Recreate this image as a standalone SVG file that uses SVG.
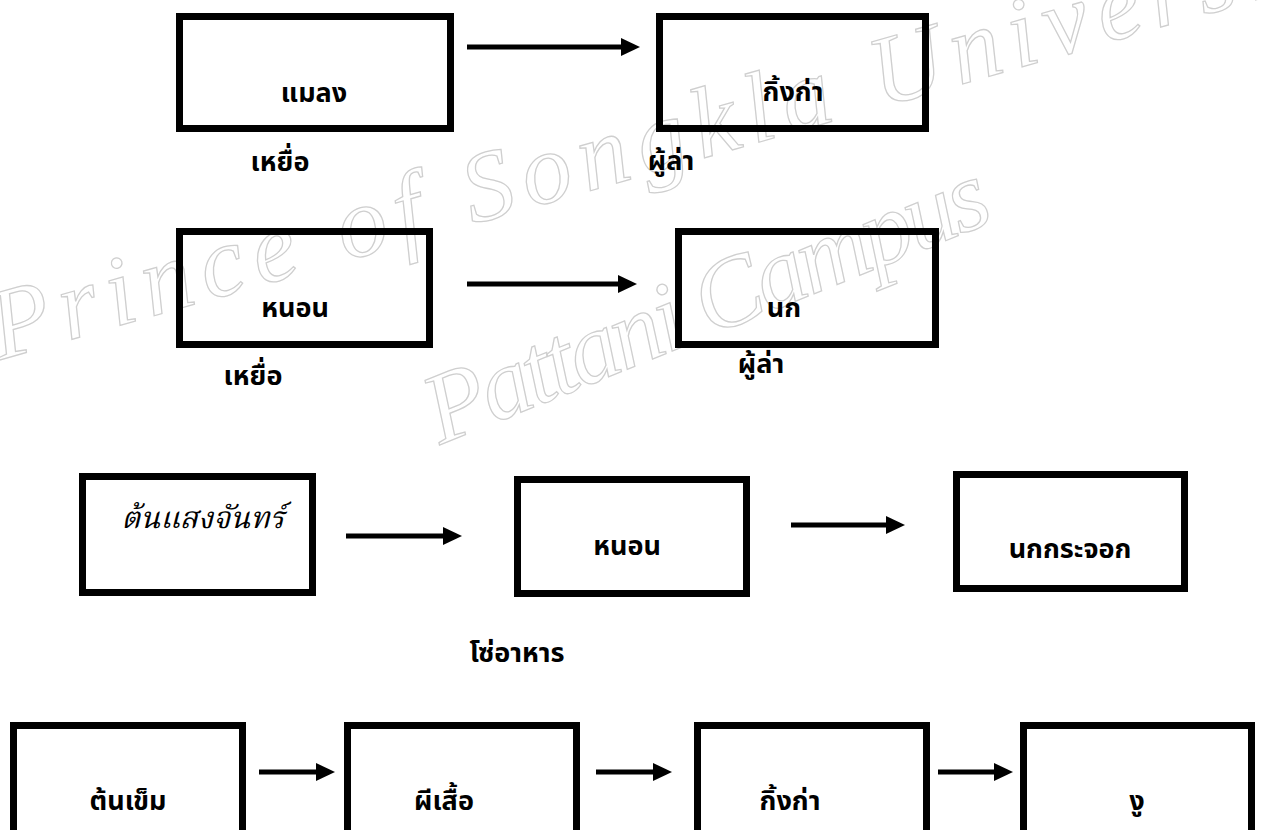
<svg xmlns="http://www.w3.org/2000/svg" width="1262" height="830" viewBox="0 0 1262 830">
<defs>
<style>
.box{fill:none;stroke:#000;stroke-width:7}
.t{font-family:"Noto Sans Thai","Noto Sans","DejaVu Sans",sans-serif;font-size:27px;font-weight:bold;fill:#000;text-anchor:middle}
.ti{font-family:"Noto Serif Thai","Noto Sans Thai","Noto Sans",serif;font-size:30px;font-style:italic;fill:#000;text-anchor:middle}
.arr{stroke:#000;stroke-width:5;fill:none;marker-end:url(#ah)}
.wm{font-family:"Liberation Serif","DejaVu Serif",serif;font-style:italic;font-size:100px;fill:none;stroke:#cfcfcf;stroke-width:1.3}
</style>
<marker id="ah" markerUnits="userSpaceOnUse" markerWidth="19" markerHeight="18" refX="1" refY="9" orient="auto">
<path d="M0,0 L19,9 L0,18 z" fill="#000"/>
</marker>
</defs>
<rect width="1262" height="830" fill="#fff"/>
<g id="watermark">
<text class="wm" transform="translate(0,360) rotate(-16)" textLength="1420" lengthAdjust="spacing">Prince of Songkla University</text>
<text class="wm" transform="translate(440,445) rotate(-22)" textLength="600" lengthAdjust="spacing">Pattani Campus</text>
</g>
<g id="connectors">
<line class="arr" x1="467" y1="47" x2="622" y2="47"/>
<line class="arr" x1="467" y1="284" x2="619" y2="284"/>
<line class="arr" x1="346" y1="536" x2="444" y2="536"/>
<line class="arr" x1="791" y1="525" x2="887" y2="525"/>
<line class="arr" x1="259" y1="772" x2="317" y2="772"/>
<line class="arr" x1="596" y1="772" x2="654" y2="772"/>
<line class="arr" x1="938" y1="772" x2="995" y2="772"/>
</g>
<g id="n-insect"><rect class="box" x="179.5" y="16.5" width="271" height="112"/><text class="t" x="314" y="102">แมลง</text></g>
<g id="n-lizard1"><rect class="box" x="659.5" y="16.5" width="266" height="112"/><text class="t" x="793" y="101">กิ้งก่า</text></g>
<g id="n-worm1"><rect class="box" x="179.5" y="231.5" width="250" height="113"/><text class="t" x="295" y="317">หนอน</text></g>
<g id="n-bird"><rect class="box" x="678.5" y="231.5" width="257" height="113"/><text class="t" x="784" y="317">นก</text></g>
<g id="n-plant"><rect class="box" x="82.5" y="476.5" width="230" height="116"/><text class="ti" x="203" y="528">ต้นแสงจันทร์</text></g>
<g id="n-worm2"><rect class="box" x="517.5" y="479.5" width="229" height="114"/><text class="t" x="627" y="555">หนอน</text></g>
<g id="n-sparrow"><rect class="box" x="956.5" y="474.5" width="228" height="114"/><text class="t" x="1070" y="558">นกกระจอก</text></g>
<g id="n-ixora"><rect class="box" x="13.5" y="725.5" width="229" height="120"/><text class="t" x="128" y="810">ต้นเข็ม</text></g>
<g id="n-butterfly"><rect class="box" x="347.5" y="725.5" width="229" height="120"/><text class="t" x="444" y="810">ผีเสื้อ</text></g>
<g id="n-lizard2"><rect class="box" x="697.5" y="725.5" width="229" height="120"/><text class="t" x="790" y="810">กิ้งก่า</text></g>
<g id="n-snake"><rect class="box" x="1023.5" y="725.5" width="228" height="120"/><text class="t" x="1137" y="810">งู</text></g>
<g id="labels">
<text class="t" x="280" y="171">เหยื่อ</text>
<text class="t" x="671" y="170">ผู้ล่า</text>
<text class="t" x="253" y="385">เหยื่อ</text>
<text class="t" x="761" y="373">ผู้ล่า</text>
<text class="t" x="517" y="662">โซ่อาหาร</text>
</g>
</svg>
